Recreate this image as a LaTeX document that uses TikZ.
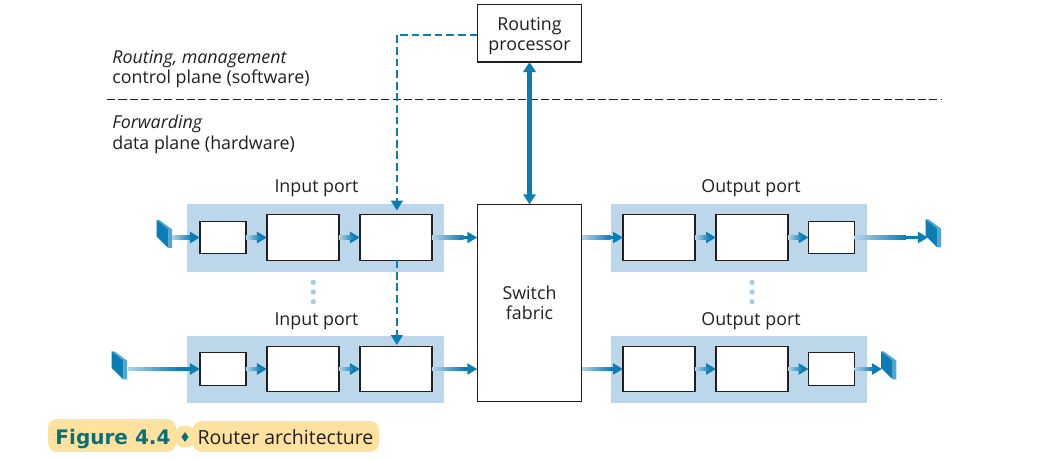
\documentclass[tikz,border=0pt]{standalone}
\usepackage{fontspec}
\setmainfont{Open Sans}
\newfontfamily\figfont{DejaVu Sans}
\usetikzlibrary{arrows.meta,calc,shapes.geometric}
\definecolor{bandblue}{HTML}{BDD7EA}
\definecolor{flowblue}{HTML}{0A7DB5}
\definecolor{flowpale}{HTML}{B4D3E8}
\definecolor{sideblue}{HTML}{52A6D4}
\definecolor{dotblue}{HTML}{A5CBE5}
\definecolor{inkdark}{HTML}{231F20}
\definecolor{capyellow}{HTML}{FFE29F}
\definecolor{capteal}{HTML}{0A7078}
\tikzset{
    band/.style = {fill=bandblue, inner sep=0, outer sep=0, minimum width=5.14cm},
    smallbox/.style = {draw=inkdark, fill=white, line width=.75pt, inner sep=0, outer sep=0, minimum width=.92cm, minimum height=.65cm},
    bigbox/.style = {smallbox, minimum width=1.44cm, minimum height=.91cm},
    label/.style = {text=inkdark, font=\fontsize{10.15}{11.3}\selectfont, inner sep=0},
    flow/.style = {draw=flowblue, line width=1.9pt, -{Triangle[length=5.7pt,width=6.2pt]}},
    fadeflow/.style = {left color=flowpale, right color=flowblue},
    ctrl/.style = {draw=flowblue, line width=1.1pt, dash pattern=on 4.4pt off 2.2pt, -{Triangle[length=5.7pt,width=6.8pt]}},
    capbox/.style = {fill=capyellow, rounded corners=5pt, inner sep=0, outer sep=0},
    linecard/.pic = {
        \fill[sideblue] (0,0) -- (2.7,0) -- (15.3,9.3) -- (15.3,28) -- (11.6,28) -- (11.6,9.3) -- cycle;
        \fill[flowblue] (0,0) -- (0,16.7) -- (11.6,28) -- (11.6,9.3) -- cycle;
    }
}
\begin{document}
\begin{tikzpicture}[x=.02cm, y=-.02cm]
    \useasboundingbox (0,0) rectangle (1041,459);

    % plane split
    \coordinate (splitL) at (107,99.5);
    \coordinate (splitR) at (941,99.5);
    \draw[inkdark, line width=.6pt, dash pattern=on 4.6pt off 1.9pt] (splitL) -- (splitR);
    \node[label, anchor=base west, font=\fontsize{10.15}{11.3}\selectfont\itshape] (ctrlA) at (112,64) {Routing, management};
    \node[label, anchor=base west] (ctrlB) at (112,84) {control plane (software)};
    \node[label, anchor=base west, font=\fontsize{10.15}{11.3}\selectfont\itshape] (dataA) at (112,129) {Forwarding};
    \node[label, anchor=base west] (dataB) at (112,150) {data plane (hardware)};

    % port bands
    \node[band, minimum height=1.36cm] (bandA) at (315.5,238) {};
    \node[band, minimum height=1.34cm] (bandB) at (315.5,369.5) {};
    \node[band, minimum height=1.36cm] (bandC) at (739,238) {};
    \node[band, minimum height=1.34cm] (bandD) at (739,369.5) {};
    \node[label, anchor=base] (inLabA) at (316.5,193) {Input port};
    \node[label, anchor=base] (inLabB) at (316.5,325) {Input port};
    \node[label, anchor=base] (outLabA) at (751,193) {Output port};
    \node[label, anchor=base] (outLabB) at (751,325) {Output port};

    % boxes
    \node[smallbox] (inA) at (223,237.5) {};
    \node[bigbox] (inB) at (303,237.5) {};
    \node[bigbox] (inC) at (396,237.5) {};
    \node[smallbox] (inD) at (223,369) {};
    \node[bigbox] (inE) at (303,369) {};
    \node[bigbox] (inF) at (396,369) {};
    \node[bigbox] (outA) at (659,237.5) {};
    \node[bigbox] (outB) at (752,237.5) {};
    \node[smallbox] (outC) at (831.5,237.5) {};
    \node[bigbox] (outD) at (659,369) {};
    \node[bigbox] (outE) at (752,369) {};
    \node[smallbox] (outF) at (831.5,369) {};
    \node[smallbox, label, minimum width=2.09cm, minimum height=3.95cm, align=center] (fabric) at (529.5,303) {Switch\\fabric};
    \node[smallbox, label, minimum width=2.09cm, minimum height=1.15cm, align=center] (rp) at (529.5,33.3) {\rule{0pt}{10.5pt}Routing\\processor};

    % line cards
    \pic at (156.7,220) {linecard};
    \pic at (111.7,351.3) {linecard};
    \pic at (925.7,219.3) {linecard};
    \pic at (881,351.3) {linecard};
    \coordinate (cardA) at (172,237.5);
    \coordinate (cardB) at (128,369);
    \coordinate (cardC) at (928,237.5);
    \coordinate (cardD) at (882,369);

    % data path
    \draw[flow] (cardA) -- (inA.west);
    \draw[flow] (inA.east) -- (inB.west);
    \draw[flow] (inB.east) -- (inC.west);
    \draw[flow] (inC.east) -- (fabric.west |- inC.east);
    \draw[flow] (cardB) -- (inD.west);
    \draw[flow] (inD.east) -- (inE.west);
    \draw[flow] (inE.east) -- (inF.west);
    \draw[flow] (inF.east) -- (fabric.west |- inF.east);
    \draw[flow] (fabric.east |- outA.west) -- (outA.west);
    \draw[flow] (outA.east) -- (outB.west);
    \draw[flow] (outB.east) -- (outC.west);
    \draw[flow] (outC.east) -- (cardC);
    \draw[flow] (fabric.east |- outD.west) -- (outD.west);
    \draw[flow] (outD.east) -- (outE.west);
    \draw[flow] (outE.east) -- (outF.west);
    \draw[flow] (outF.east) -- (cardD);
    \foreach \a/\b in {cardA/inA.west, inA.east/inB.west, inB.east/inC.west, inC.east/{477,237.5},
                       cardB/inD.west, inD.east/inE.west, inE.east/inF.west, inF.east/{477,369},
                       {582,237.5}/outA.west, outA.east/outB.west, outB.east/outC.west, outC.east/cardC,
                       {582,369}/outD.west, outD.east/outE.west, outE.east/outF.west, outF.east/cardD}
        \shade[fadeflow] ($(\a)+(0,-1.6)$) rectangle ($(\a)!.7!(\b)+(0,1.6)$);

    % control path
    \draw[flow, line width=2.8pt, {Triangle[length=5.7pt,width=7pt]}-{Triangle[length=5.7pt,width=7pt]}] (rp.south) -- (fabric.north);
    \draw[ctrl] ([yshift=-.8pt]rp.west) -| ([xshift=.5pt,yshift=2.4pt]inC.north);
    \draw[ctrl] ([xshift=.5pt]inC.south) -- ([xshift=.5pt,yshift=.7pt]inF.north);

    % dots
    \foreach \y in {282.3,292,301.7} {
        \fill[dotblue] (313.3,\y) circle [radius=2.6];
        \fill[dotblue] (752,\y) circle [radius=2.6];
    }

    % caption
    \node[capbox, minimum width=2.56cm, minimum height=.66cm] (capA) at (112,435.5) {};
    \node[capbox, rounded corners=3pt, minimum width=.36cm, minimum height=.42cm] (capB) at (185,436.5) {};
    \node[capbox, minimum width=3.72cm, minimum height=.62cm] (capC) at (286,436.5) {};
    \node[anchor=base, inner sep=0, text=capteal, font=\figfont\fontsize{11.4}{13}\selectfont\bfseries] (capNum) at (113,444) {Figure 4.4};
    \node[diamond, fill=capteal, inner sep=0, minimum width=.15cm, minimum height=.2cm] (capDot) at (185,437) {};
    \node[label, anchor=base, font=\fontsize{11.1}{12}\selectfont] (capText) at (285.5,444) {Router architecture};
\end{tikzpicture}
\end{document}
